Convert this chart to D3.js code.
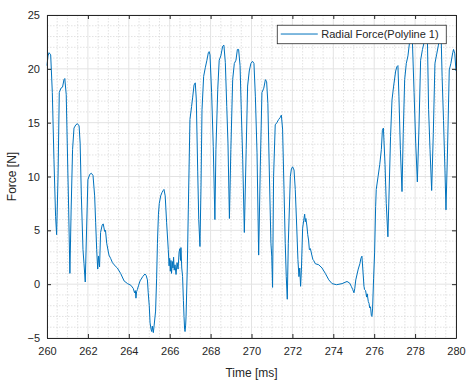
<!DOCTYPE html>
<html>
<head>
<meta charset="utf-8">
<script src="https://cdn.jsdelivr.net/npm/d3@7"></script>
<style>
  body { margin: 0; background: #fff; }
  svg { display: block; font-family: "Liberation Sans", Arial, sans-serif; }
  .axis path, .axis line { stroke: #262626; }
  .axis text { fill: #262626; font-size: 11px; }
</style>
</head>
<body>
<svg id="chart"></svg>
<script>
// readings of the trace, time in ms
const timeMs = [
  260.00, 260.05, 260.10, 260.18, 260.26, 260.34, 260.42, 260.47, 260.54, 260.60,
  260.68, 260.76, 260.83, 260.87, 260.94, 260.99, 261.06, 261.12, 261.18, 261.25,
  261.32, 261.41, 261.49, 261.57, 261.62, 261.68, 261.76, 261.81, 261.87, 261.94,
  262.00, 262.09, 262.17, 262.25, 262.33, 262.38, 262.43, 262.48, 262.52, 262.57,
  262.62, 262.70, 262.75, 262.78, 262.82, 262.86, 262.92, 263.03, 263.11, 263.20,
  263.28, 263.44, 263.60, 263.77, 263.94, 264.10, 264.22, 264.28, 264.32, 264.35,
  264.38, 264.42, 264.48, 264.55, 264.68, 264.79, 264.85, 264.91, 264.95, 265.00,
  265.04, 265.09, 265.12, 265.15, 265.18, 265.20, 265.24, 265.31, 265.36, 265.40,
  265.45, 265.49, 265.56, 265.62, 265.68, 265.72, 265.78, 265.85, 265.93, 265.97,
  266.00, 266.03, 266.06, 266.09, 266.13, 266.16, 266.19, 266.22, 266.26, 266.31,
  266.36, 266.41, 266.46, 266.50, 266.53, 266.55, 266.59, 266.63, 266.67, 266.70,
  266.73, 266.75, 266.78, 266.80, 266.86, 266.91, 266.99, 267.07, 267.12, 267.19,
  267.25, 267.30, 267.37, 267.42, 267.48, 267.53, 267.58, 267.66, 267.74, 267.82,
  267.89, 267.93, 267.97, 268.05, 268.13, 268.21, 268.26, 268.35, 268.42, 268.50,
  268.59, 268.65, 268.72, 268.79, 268.85, 268.92, 268.99, 269.08, 269.16, 269.24,
  269.31, 269.37, 269.44, 269.50, 269.57, 269.65, 269.74, 269.81, 269.89, 269.97,
  270.05, 270.12, 270.19, 270.27, 270.35, 270.43, 270.51, 270.60, 270.68, 270.74,
  270.80, 270.87, 270.95, 270.99, 271.03, 271.08, 271.16, 271.24, 271.33, 271.41,
  271.46, 271.52, 271.59, 271.65, 271.70, 271.75, 271.80, 271.90, 271.95, 272.01,
  272.08, 272.14, 272.21, 272.27, 272.32, 272.36, 272.40, 272.44, 272.50, 272.55,
  272.60, 272.63, 272.66, 272.71, 272.75, 272.79, 272.83, 272.88, 272.95, 273.00,
  273.04, 273.12, 273.29, 273.45, 273.61, 273.78, 273.94, 274.16, 274.43, 274.67,
  274.80, 274.88, 274.95, 275.01, 275.05, 275.10, 275.22, 275.30, 275.35, 275.40,
  275.44, 275.50, 275.53, 275.58, 275.63, 275.66, 275.71, 275.75, 275.78, 275.82,
  275.86, 275.89, 275.92, 275.97, 276.02, 276.07, 276.10, 276.19, 276.27, 276.35,
  276.40, 276.45, 276.53, 276.59, 276.67, 276.72, 276.80, 276.87, 276.95, 277.05,
  277.11, 277.16, 277.21, 277.28, 277.36, 277.42, 277.49, 277.57, 277.65, 277.73,
  277.81, 277.86, 277.95, 278.03, 278.11, 278.19, 278.27, 278.36, 278.47, 278.55,
  278.60, 278.66, 278.73, 278.81, 278.89, 278.97, 279.05, 279.14, 279.22, 279.28,
  279.32, 279.39, 279.46, 279.51, 279.58, 279.67, 279.75, 279.84, 279.88, 279.94,
  280.00
];

// radial force in N
const forceN = [
  20.3, 21.2, 21.5, 21.3, 17.8, 11.6, 6.3, 4.6, 10.0, 17.8,
  18.2, 18.3, 19.0, 19.1, 17.6, 13.1, 6.9, 1.0, 6.9, 12.5,
  14.5, 14.8, 14.9, 14.7, 13.1, 8.2, 3.2, 1.9, 0.2, 5.4,
  9.7, 10.2, 10.3, 10.1, 8.2, 5.7, 3.2, 1.4, 2.6, 1.6,
  4.8, 5.5, 5.6, 5.3, 4.9, 5.0, 3.8, 2.7, 2.4, 2.0,
  1.8, 1.5, 1.0, 0.3, 0.05, -0.1, -0.4, -0.8, -0.6, -1.3,
  -0.7, -0.5, -0.1, 0.3, 0.7, 0.95, 0.8, 0.4, -0.8, -2.0,
  -3.6, -4.2, -4.4, -3.9, -4.3, -4.5, -3.8, -2.5, 0.5, 3.8,
  6.5, 7.5, 8.2, 8.5, 8.7, 8.8, 8.2, 5.7, 3.2, 1.7,
  2.4, 1.2, 2.2, 1.0, 2.1, 1.5, 2.5, 1.3, 1.8, 0.9,
  2.0, 1.4, 3.0, 3.3, 2.2, 3.4, 1.5, 0.7, -1.5, -3.0,
  -4.2, -4.4, -3.8, -3.0, 1.5, 6.9, 15.3, 16.5, 17.3, 18.5,
  18.7, 17.2, 10.5, 6.0, 3.5, 9.0, 16.2, 19.3, 20.1, 20.8,
  21.5, 21.6, 21.3, 17.8, 12.8, 6.0, 12.5, 18.1, 20.8, 21.2,
  22.1, 22.2, 20.6, 16.5, 13.1, 6.1, 12.5, 19.0, 20.5, 20.8,
  21.8, 21.8, 20.3, 16.2, 11.6, 4.8, 12.5, 18.4, 19.8, 20.5,
  20.7, 20.5, 17.4, 12.2, 2.7, 10.9, 17.8, 18.2, 19.0, 18.8,
  16.8, 10.6, 3.8, 2.6, -0.3, 10.0, 14.8, 15.0, 15.3, 15.5,
  15.7, 14.4, 8.8, 3.8, 0.7, -1.4, 3.8, 10.0, 10.7, 10.9,
  10.6, 8.8, 5.4, 2.3, 0.7, 1.5, -0.2, 1.3, 5.2, 5.9,
  6.5, 5.8, 6.1, 5.4, 4.6, 4.1, 3.2, 3.3, 2.7, 2.3,
  2.2, 1.9, 1.8, 1.5, 1.0, 0.4, 0.05, -0.05, 0.05, 0.25,
  0.1, -0.2, -0.5, -0.8, -0.4, 0.4, 1.4, 1.9, 2.4, 2.6,
  1.5, -0.2, -0.5, -0.6, -1.2, -0.9, -1.6, -1.8, -2.2, -2.1,
  -2.9, -3.0, -2.3, 0.5, 2.9, 7.2, 8.8, 10.0, 11.1, 12.5,
  14.3, 14.5, 11.1, 7.5, 4.4, 8.0, 13.7, 17.1, 18.4, 19.8,
  20.2, 20.3, 17.4, 12.5, 8.6, 14.0, 19.0, 20.5, 21.2, 22.5,
  23.3, 23.0, 17.8, 13.1, 9.5, 14.6, 20.8, 21.8, 22.7, 23.4,
  23.0, 16.2, 12.5, 8.7, 14.0, 20.5, 21.3, 22.2, 23.5, 22.5,
  19.3, 15.2, 10.6, 6.9, 12.0, 19.9, 20.5, 21.5, 21.8, 21.4,
  19.8
];

const xTicks = [260, 262, 264, 266, 268, 270, 272, 274, 276, 278, 280];
const yTicks = [-5, 0, 5, 10, 15, 20, 25];
const seriesName = "Radial Force(Polyline 1)";

const config = {
  width: 467,
  height: 383,
  margin: { top: 15, right: 11, bottom: 45, left: 47 },
  get usableWidth() { return this.width - this.margin.left - this.margin.right; },
  get usableHeight() { return this.height - this.margin.top - this.margin.bottom; }
};

const svg = d3.select("#chart").attr("width", config.width).attr("height", config.height);
const g = svg.append("g").attr("transform", `translate(${config.margin.left},${config.margin.top})`);

const x = d3.scaleLinear().domain([260, 280]).range([0, config.usableWidth]);
const y = d3.scaleLinear().domain([-5, 25]).range([config.usableHeight, 0]);

// minor grid (dotted)
const xMinor = d3.range(260, 280.01, 0.5).filter(v => xTicks.indexOf(v) < 0);
const yMinor = d3.range(-5, 25.01, 1).filter(v => yTicks.indexOf(v) < 0);
g.append("g").selectAll("line").data(xMinor).join("line")
  .attr("x1", d => x(d)).attr("x2", d => x(d))
  .attr("y1", 0).attr("y2", config.usableHeight)
  .attr("stroke", "#d6d6d6").attr("stroke-width", 0.7).attr("stroke-dasharray", "1.5,1.5");
g.append("g").selectAll("line").data(yMinor).join("line")
  .attr("y1", d => y(d)).attr("y2", d => y(d))
  .attr("x1", 0).attr("x2", config.usableWidth)
  .attr("stroke", "#d6d6d6").attr("stroke-width", 0.7).attr("stroke-dasharray", "1.5,1.5");

// major grid
g.append("g").selectAll("line").data(xTicks).join("line")
  .attr("x1", d => x(d)).attr("x2", d => x(d))
  .attr("y1", 0).attr("y2", config.usableHeight)
  .attr("stroke", "#e3e3e3").attr("stroke-width", 1);
g.append("g").selectAll("line").data(yTicks).join("line")
  .attr("y1", d => y(d)).attr("y2", d => y(d))
  .attr("x1", 0).attr("x2", config.usableWidth)
  .attr("stroke", "#e3e3e3").attr("stroke-width", 1);

// trace
const pts = timeMs.map((t, i) => [t, forceN[i]]);
g.append("path")
  .datum(pts)
  .attr("fill", "none")
  .attr("stroke", "#0072BD")
  .attr("stroke-width", 1)
  .attr("stroke-linejoin", "round")
  .attr("d", d3.line().x(d => x(d[0])).y(d => y(d[1])));

// axes, MATLAB style: ticks inward on all four sides
g.append("g").attr("class", "axis")
  .attr("transform", `translate(0,${config.usableHeight})`)
  .call(d3.axisBottom(x).tickValues(xTicks).tickFormat(d3.format("d")).tickSizeInner(-4).tickSizeOuter(0).tickPadding(9));
g.append("g").attr("class", "axis")
  .call(d3.axisLeft(y).tickValues(yTicks).tickSizeInner(-4).tickSizeOuter(0).tickPadding(7));
g.append("g").attr("class", "axis")
  .call(d3.axisTop(x).tickValues(xTicks).tickFormat("").tickSizeInner(-4).tickSizeOuter(0));
g.append("g").attr("class", "axis")
  .attr("transform", `translate(${config.usableWidth},0)`)
  .call(d3.axisRight(y).tickValues(yTicks).tickFormat("").tickSizeInner(-4).tickSizeOuter(0));

// axis labels
g.append("text")
  .attr("x", config.usableWidth / 2).attr("y", config.usableHeight + 39)
  .attr("text-anchor", "middle").attr("fill", "#262626").attr("font-size", 12)
  .text("Time [ms]");
g.append("text")
  .attr("transform", `translate(-31,${config.usableHeight / 2}) rotate(-90)`)
  .attr("text-anchor", "middle").attr("fill", "#262626").attr("font-size", 12)
  .text("Force [N]");

// legend
const legend = g.append("g").attr("transform", `translate(${x(271.26)},${y(24.05)})`);
legend.append("rect")
  .attr("width", 169).attr("height", 18.5)
  .attr("fill", "#fff").attr("stroke", "#262626").attr("stroke-width", 0.8);
legend.append("line")
  .attr("x1", 3.5).attr("x2", 40.5).attr("y1", 8.8).attr("y2", 8.8)
  .attr("stroke", "#0072BD").attr("stroke-width", 1);
legend.append("text")
  .attr("x", 44).attr("y", 13).attr("fill", "#262626").attr("font-size", 11)
  .text(seriesName);
</script>
</body>
</html>
